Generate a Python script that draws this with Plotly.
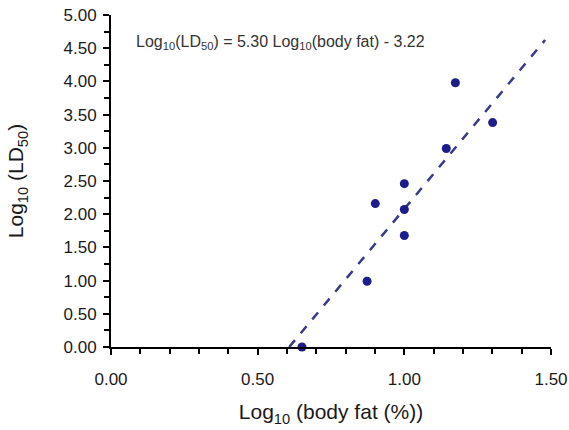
import plotly.graph_objects as go

log_body_fat = [0.651, 0.873, 0.901, 1.000, 1.000, 1.000, 1.143, 1.174, 1.301]
log_ld50 = [0.00, 0.99, 2.16, 2.46, 2.07, 1.68, 2.99, 3.98, 3.38]

slope = 5.30
intercept = -3.22
fit_x = [0.6075, 1.48]
fit_y = [slope * x + intercept for x in fit_x]

x_ticks = [0.0, 0.5, 1.0, 1.5]
y_ticks = [0, 0.5, 1, 1.5, 2, 2.5, 3, 3.5, 4, 4.5, 5]

W, H = 569, 430
L, R, T, B = 111, 18, 15, 83

fig = go.Figure()
fig.add_trace(go.Scatter(x=fit_x, y=fit_y, mode="lines",
                         line=dict(color="#3a3a8c", width=2.5, dash="dash"),
                         cliponaxis=False, showlegend=False))
fig.add_trace(go.Scatter(x=log_body_fat, y=log_ld50, mode="markers",
                         marker=dict(color="#1c1c8a", size=9),
                         cliponaxis=False, showlegend=False))

fig.add_annotation(x=(134 - L) / (W - L - R), y=1 - (43 - T) / (H - T - B),
                   xref="paper", yref="paper",
                   text="Log<sub>10</sub>(LD<sub>50</sub>) = 5.30 Log<sub>10</sub>(body fat) - 3.22",
                   showarrow=False, xanchor="left", yanchor="middle",
                   font=dict(family="Arial, Liberation Sans", size=16, color="#333333"))

axis_font = dict(family="Arial, Liberation Sans", size=17, color="#1a1a1a")
title_font = dict(family="Arial, Liberation Sans", size=21, color="#1a1a1a")
fig.update_layout(
    width=W, height=H,
    margin=dict(l=L, r=R, t=T, b=B),
    plot_bgcolor="white", paper_bgcolor="white",
    xaxis=dict(range=[0, 1.5], tickvals=x_ticks, ticktext=["%.2f" % v for v in x_ticks],
               automargin=False, ticklabeloverflow="allow",
               showgrid=False, zeroline=False, showline=True, linecolor="black", linewidth=2,
               ticks="outside", ticklen=6, tickwidth=1.5, tickcolor="black",
               minor=dict(dtick=0.1, tick0=0, ticks="outside", ticklen=5, tickwidth=1.5, tickcolor="black", showgrid=False),
               tickfont=axis_font, ticklabelstandoff=10,
               title=dict(text="Log<sub>10</sub> (body fat (%))", font=title_font, standoff=16)),
    yaxis=dict(range=[0, 5], tickvals=y_ticks, ticktext=["%.2f" % v for v in y_ticks],
               automargin=False, ticklabeloverflow="allow",
               showgrid=False, zeroline=False, showline=True, linecolor="black", linewidth=2,
               ticks="outside", ticklen=6, tickwidth=1.5, tickcolor="black",
               minor=dict(dtick=0.25, tick0=0, ticks="outside", ticklen=5, tickwidth=1.5, tickcolor="black", showgrid=False),
               tickfont=axis_font, ticklabelstandoff=3,
               title=dict(text="Log<sub>10</sub> (LD<sub>50</sub>)", font=title_font, standoff=34)),
)

fig.write_html("out.html", config={"displayModeBar": False},
               post_script="document.body.style.margin='0';")
